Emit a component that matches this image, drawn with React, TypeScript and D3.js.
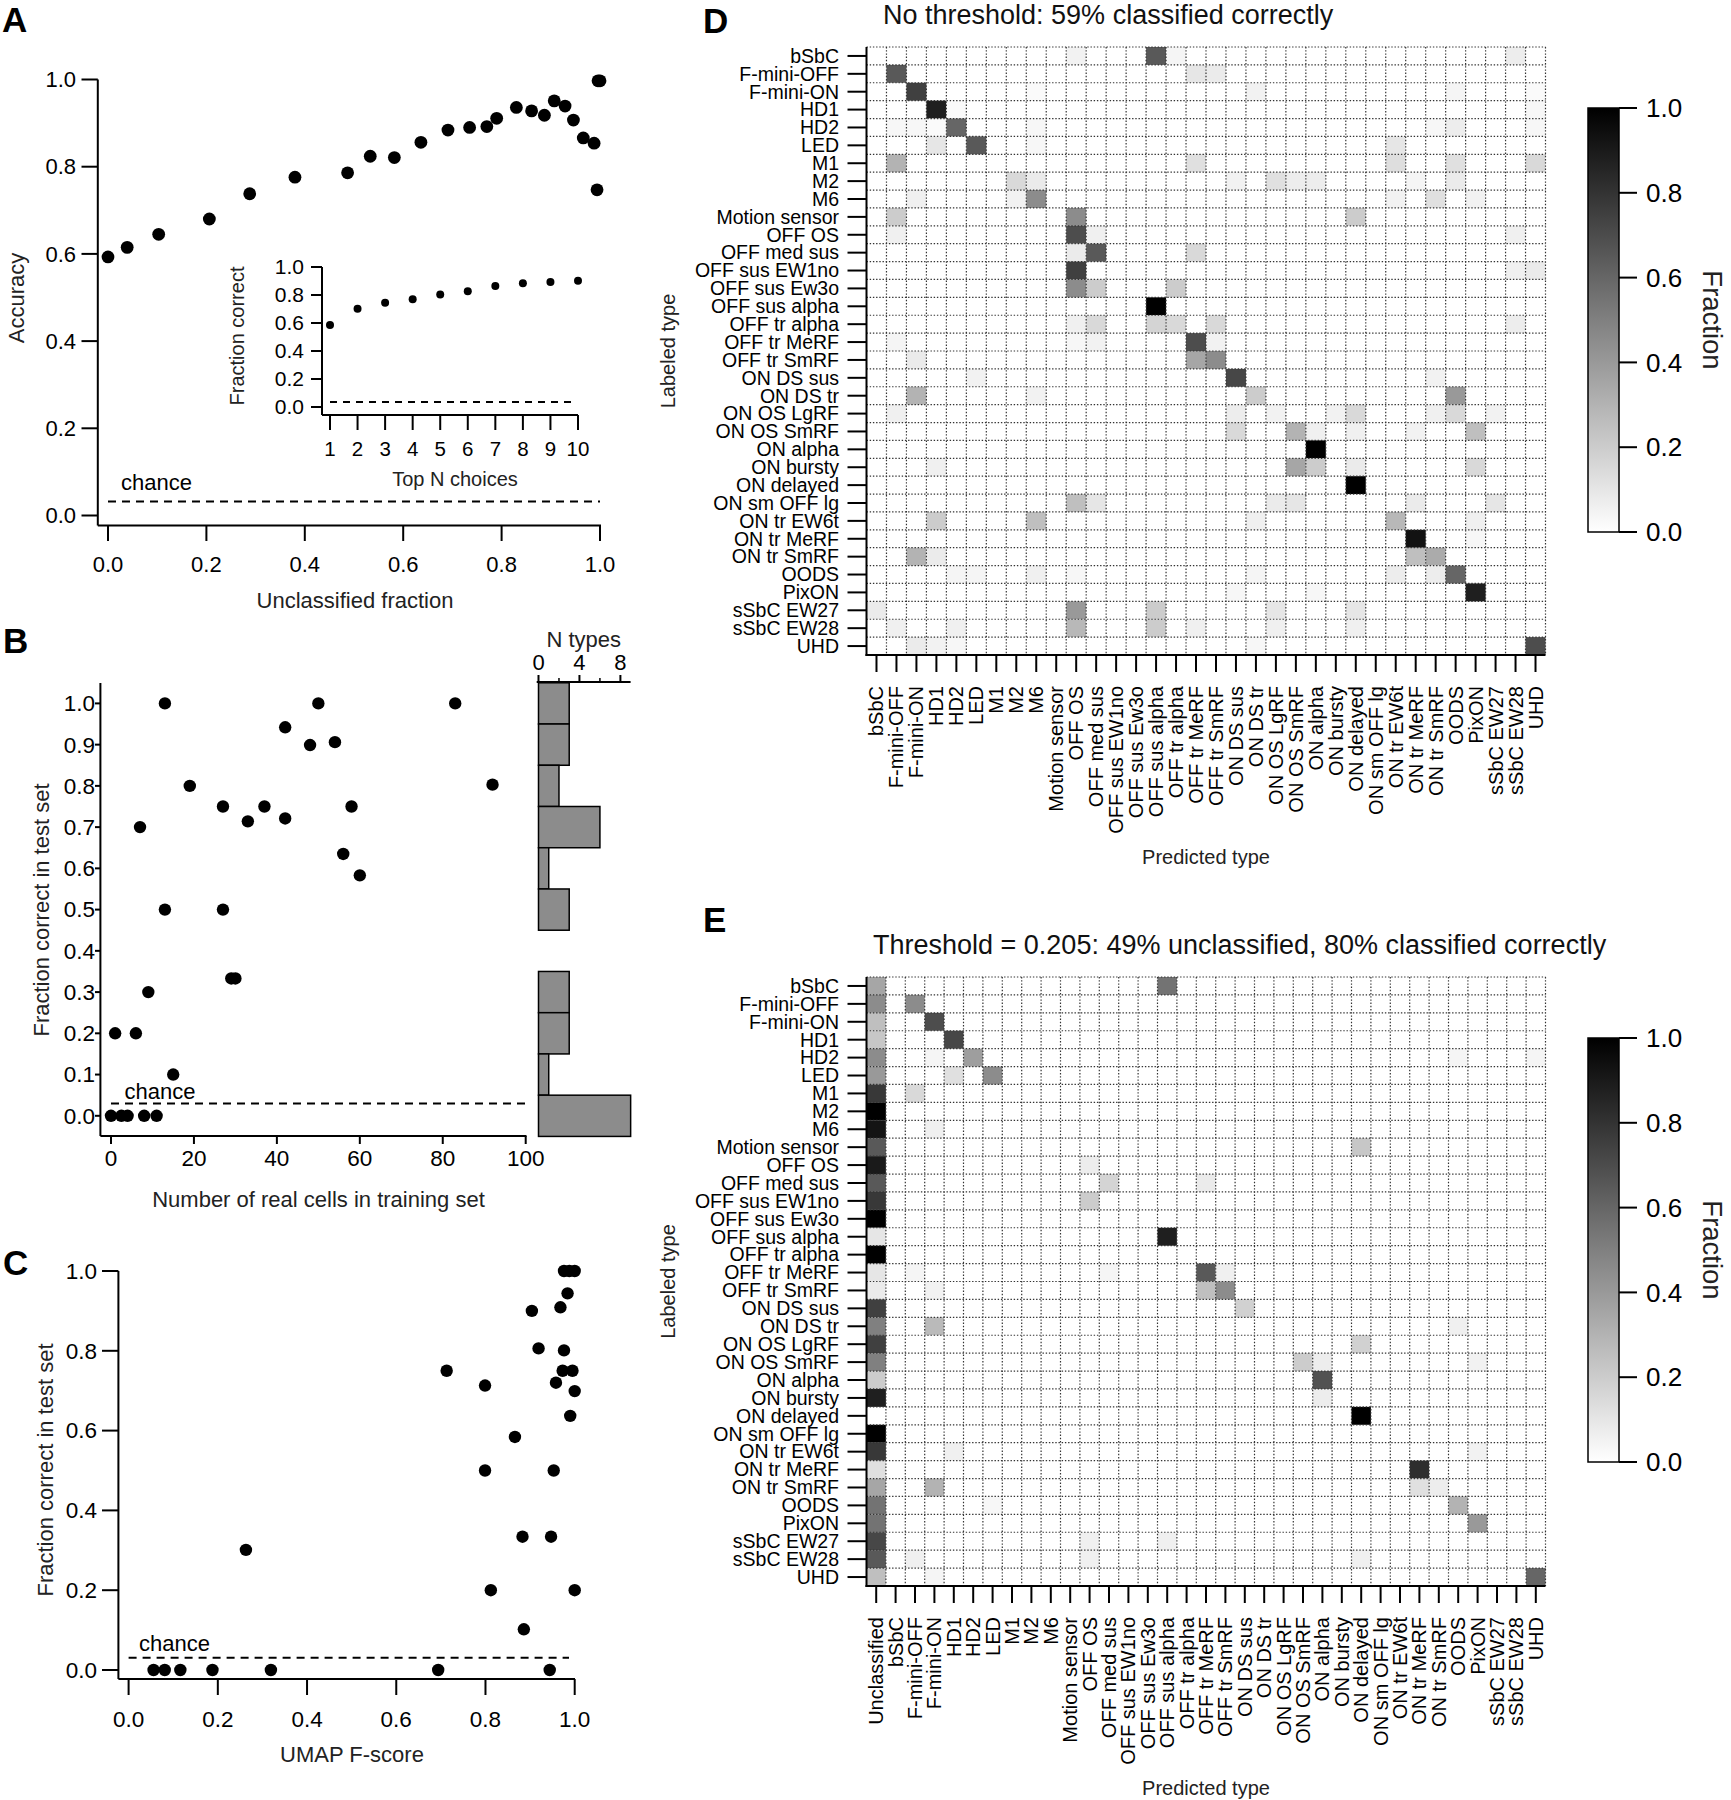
import React from "react";
import * as d3 from "d3";

const W = 1731;
const H = 1800;
const FONT = "'Liberation Sans', Arial, Helvetica, sans-serif";

// ---------------- Panel A data ----------------
const unclassifiedFraction = [0.0, 0.039, 0.103, 0.206, 0.288, 0.38, 0.487, 0.533, 0.582, 0.636, 0.691, 0.735, 0.77, 0.79, 0.83, 0.861, 0.887, 0.907, 0.929, 0.946, 0.966, 0.988, 0.994, 0.996, 1.0];
const accuracy = [0.593, 0.615, 0.645, 0.68, 0.738, 0.776, 0.786, 0.824, 0.821, 0.856, 0.884, 0.89, 0.892, 0.911, 0.936, 0.928, 0.918, 0.951, 0.939, 0.907, 0.866, 0.854, 0.747, 0.997, 0.997];
const topNChoices = [1, 2, 3, 4, 5, 6, 7, 8, 9, 10];
const topNFraction = [0.585, 0.702, 0.744, 0.77, 0.804, 0.827, 0.864, 0.884, 0.892, 0.901];
const chanceLevel = 0.032;
const ticksA = [0, 0.2, 0.4, 0.6, 0.8, 1.0];

// ---------------- Panel B data ----------------
const trainingCells = [13, 50, 83, 42, 48, 54, 19, 92, 27, 37, 58, 7, 33, 42, 56, 60, 13, 27, 29, 30, 9, 1, 6, 15, 0, 2.5, 4, 8, 11];
const fractionCorrectB = [1, 1, 1, 0.942, 0.899, 0.906, 0.8, 0.803, 0.75, 0.75, 0.75, 0.7, 0.714, 0.721, 0.635, 0.583, 0.5, 0.5, 0.333, 0.333, 0.3, 0.2, 0.2, 0.1, 0, 0, 0, 0, 0];
const histBinCenters = [1.0, 0.9, 0.8, 0.7, 0.6, 0.5, 0.4, 0.3, 0.2, 0.1, 0.0];
const histCounts = [3, 3, 2, 6, 1, 3, 0, 3, 3, 1, 9];
const ticksBy = [0, 0.1, 0.2, 0.3, 0.4, 0.5, 0.6, 0.7, 0.8, 0.9, 1.0];
const ticksBx = [0, 20, 40, 60, 80, 100];
const ticksHist = [0, 4, 8];
const minorTicksHist = [2, 6];

// ---------------- Panel C data ----------------
const umapFScore = [0.976, 0.988, 1.0, 0.984, 0.904, 0.968, 0.919, 0.976, 0.713, 0.973, 0.995, 0.799, 0.958, 1.0, 0.99, 0.866, 0.799, 0.953, 0.883, 0.947, 0.263, 0.812, 1.0, 0.886, 0.056, 0.081, 0.116, 0.188, 0.319, 0.694, 0.944];
const fractionCorrectC = [1, 1, 1, 0.944, 0.9, 0.909, 0.806, 0.801, 0.75, 0.75, 0.75, 0.713, 0.72, 0.699, 0.637, 0.584, 0.5, 0.5, 0.334, 0.334, 0.301, 0.2, 0.2, 0.102, 0, 0, 0, 0, 0, 0, 0];

// ---------------- Panels D / E data ----------------
const typeNames = ["bSbC", "F-mini-OFF", "F-mini-ON", "HD1", "HD2", "LED", "M1", "M2", "M6", "Motion sensor", "OFF OS", "OFF med sus", "OFF sus EW1no", "OFF sus Ew3o", "OFF sus alpha", "OFF tr alpha", "OFF tr MeRF", "OFF tr SmRF", "ON DS sus", "ON DS tr", "ON OS LgRF", "ON OS SmRF", "ON alpha", "ON bursty", "ON delayed", "ON sm OFF lg", "ON tr EW6t", "ON tr MeRF", "ON tr SmRF", "OODS", "PixON", "sSbC EW27", "sSbC EW28", "UHD"];
const predictedColsE = ["Unclassified", ...typeNames];
const colorbarTicks = [0, 0.2, 0.4, 0.6, 0.8, 1.0];

// [labeled row, predicted column, fraction]
const confusionD: [number, number, number][] = [
  [0, 10, 0.05], [0, 14, 0.65], [0, 15, 0.04], [0, 32, 0.07],
  [1, 1, 0.65], [1, 16, 0.1], [1, 17, 0.08],
  [2, 2, 0.75], [2, 8, 0.02], [2, 19, 0.05], [2, 29, 0.04], [2, 33, 0.02],
  [3, 3, 0.88], [3, 4, 0.02], [3, 33, 0.03],
  [4, 1, 0.03], [4, 2, 0.03], [4, 3, 0.02], [4, 4, 0.6], [4, 8, 0.03], [4, 28, 0.03], [4, 29, 0.07], [4, 33, 0.03],
  [5, 3, 0.1], [5, 5, 0.65], [5, 8, 0.03], [5, 26, 0.1],
  [6, 1, 0.3], [6, 16, 0.12], [6, 26, 0.13], [6, 29, 0.12], [6, 33, 0.15],
  [7, 7, 0.15], [7, 8, 0.08], [7, 18, 0.05], [7, 20, 0.12], [7, 21, 0.07], [7, 22, 0.07], [7, 27, 0.04], [7, 29, 0.08],
  [8, 2, 0.06], [8, 7, 0.05], [8, 8, 0.45], [8, 26, 0.05], [8, 28, 0.12], [8, 30, 0.05],
  [9, 1, 0.2], [9, 10, 0.45], [9, 24, 0.2],
  [10, 1, 0.06], [10, 10, 0.7], [10, 11, 0.06], [10, 32, 0.06],
  [11, 10, 0.08], [11, 11, 0.65], [11, 16, 0.15],
  [12, 10, 0.75], [12, 32, 0.06], [12, 33, 0.08],
  [13, 10, 0.45], [13, 11, 0.2], [13, 15, 0.2],
  [14, 14, 1.0],
  [15, 10, 0.06], [15, 11, 0.15], [15, 14, 0.17], [15, 15, 0.15], [15, 17, 0.15], [15, 32, 0.07],
  [16, 1, 0.04], [16, 10, 0.03], [16, 11, 0.05], [16, 16, 0.7], [16, 17, 0.05],
  [17, 2, 0.08], [17, 16, 0.35], [17, 17, 0.45],
  [18, 5, 0.05], [18, 18, 0.72], [18, 28, 0.05],
  [19, 2, 0.3], [19, 8, 0.05], [19, 19, 0.2], [19, 29, 0.4],
  [20, 1, 0.06], [20, 18, 0.07], [20, 20, 0.05], [20, 23, 0.05], [20, 24, 0.15], [20, 28, 0.06], [20, 29, 0.15], [20, 31, 0.05],
  [21, 18, 0.15], [21, 21, 0.3], [21, 22, 0.06], [21, 24, 0.06], [21, 27, 0.05], [21, 30, 0.25],
  [22, 22, 1.0],
  [23, 3, 0.06], [23, 21, 0.35], [23, 22, 0.2], [23, 24, 0.08], [23, 30, 0.15],
  [24, 24, 1.0],
  [25, 10, 0.25], [25, 11, 0.1], [25, 20, 0.08], [25, 21, 0.1], [25, 27, 0.08], [25, 31, 0.1],
  [26, 3, 0.2], [26, 8, 0.25], [26, 19, 0.06], [26, 26, 0.28], [26, 30, 0.06],
  [27, 27, 0.93], [27, 30, 0.03],
  [28, 2, 0.3], [28, 3, 0.08], [28, 27, 0.25], [28, 28, 0.33],
  [29, 4, 0.04], [29, 5, 0.04], [29, 8, 0.06], [29, 10, 0.03], [29, 19, 0.04], [29, 26, 0.07], [29, 28, 0.07], [29, 29, 0.6],
  [30, 18, 0.03], [30, 22, 0.03], [30, 30, 0.88],
  [31, 0, 0.08], [31, 10, 0.4], [31, 14, 0.2], [31, 20, 0.1], [31, 24, 0.1],
  [32, 1, 0.06], [32, 4, 0.06], [32, 10, 0.28], [32, 14, 0.2], [32, 16, 0.06], [32, 20, 0.06], [32, 24, 0.06],
  [33, 2, 0.08], [33, 3, 0.05], [33, 4, 0.03], [33, 19, 0.03], [33, 33, 0.7],
];

// column 0 = Unclassified
const confusionE: [number, number, number][] = [
  [0, 0, 0.35], [0, 15, 0.55],
  [1, 0, 0.45], [1, 2, 0.45],
  [2, 0, 0.25], [2, 3, 0.7],
  [3, 0, 0.22], [3, 4, 0.72],
  [4, 0, 0.45], [4, 3, 0.04], [4, 5, 0.38], [4, 30, 0.04], [4, 34, 0.04],
  [5, 0, 0.4], [5, 4, 0.12], [5, 6, 0.45],
  [6, 0, 0.78], [6, 2, 0.15],
  [7, 0, 1.0],
  [8, 0, 0.92], [8, 3, 0.06],
  [9, 0, 0.65], [9, 25, 0.22],
  [10, 0, 0.9], [10, 11, 0.07],
  [11, 0, 0.65], [11, 12, 0.17], [11, 17, 0.08],
  [12, 0, 0.78], [12, 11, 0.2],
  [13, 0, 1.0],
  [14, 0, 0.1], [14, 15, 0.88],
  [15, 0, 1.0],
  [16, 0, 0.1], [16, 2, 0.04], [16, 12, 0.04], [16, 17, 0.65], [16, 18, 0.06],
  [17, 0, 0.08], [17, 3, 0.05], [17, 17, 0.25], [17, 18, 0.45],
  [18, 0, 0.75], [18, 19, 0.18],
  [19, 0, 0.5], [19, 3, 0.27], [19, 30, 0.06],
  [20, 0, 0.75], [20, 25, 0.18],
  [21, 0, 0.5], [21, 22, 0.2], [21, 23, 0.07], [21, 31, 0.05],
  [22, 0, 0.2], [22, 23, 0.68],
  [23, 0, 0.88], [23, 23, 0.07],
  [24, 25, 1.0],
  [25, 0, 1.0],
  [26, 0, 0.78], [26, 4, 0.06], [26, 31, 0.05],
  [27, 0, 0.12], [27, 28, 0.82],
  [28, 0, 0.35], [28, 3, 0.3], [28, 28, 0.12], [28, 29, 0.07],
  [29, 0, 0.55], [29, 6, 0.03], [29, 30, 0.3],
  [30, 0, 0.55], [30, 31, 0.4],
  [31, 0, 0.72], [31, 11, 0.06], [31, 15, 0.06],
  [32, 0, 0.65], [32, 2, 0.06], [32, 11, 0.06], [32, 25, 0.06],
  [33, 0, 0.25], [33, 3, 0.04], [33, 34, 0.6],
];

const fmt1 = d3.format(".1f");

function PanelLetter({ x, y, t }: { x: number; y: number; t: string }) {
  return (
    <text x={x} y={y} fontSize={35} fontWeight="bold" fontFamily={FONT} fill="#000">
      {t}
    </text>
  );
}

function PanelA() {
  const x = d3.scaleLinear().domain([0, 1]).range([108, 600]);
  const y = d3.scaleLinear().domain([0, 1]).range([515.5, 79.5]);
  const xi = d3.scaleLinear().domain([1, 10]).range([330, 578]);
  const yi = d3.scaleLinear().domain([0, 1]).range([407, 267]);
  const axX = 97.8;
  const axY = 525.4;
  return (
    <g>
      <PanelLetter x={2} y={32} t="A" />
      <line x1={axX} x2={axX} y1={y(1)} y2={axY} stroke="#000" strokeWidth={2} />
      <line x1={axX} x2={601} y1={axY} y2={axY} stroke="#000" strokeWidth={2} />
      {ticksA.map((t) => (
        <g key={"ay" + t}>
          <line x1={81.5} x2={axX} y1={y(t)} y2={y(t)} stroke="#000" strokeWidth={2} />
          <text x={76} y={y(t)} dy="0.35em" textAnchor="end" fontSize={22} fontFamily={FONT}>{fmt1(t)}</text>
        </g>
      ))}
      {ticksA.map((t) => (
        <g key={"ax" + t}>
          <line x1={x(t)} x2={x(t)} y1={axY} y2={541} stroke="#000" strokeWidth={2} />
          <text x={x(t)} y={564} dy="0.35em" textAnchor="middle" fontSize={22} fontFamily={FONT}>{fmt1(t)}</text>
        </g>
      ))}
      <text transform={`translate(16,298) rotate(-90)`} dy="0.35em" textAnchor="middle" fontSize={22} fontFamily={FONT} fill="#222">Accuracy</text>
      <text x={355} y={600} dy="0.35em" textAnchor="middle" fontSize={22} fontFamily={FONT} fill="#222">Unclassified fraction</text>
      <line x1={x(0)} x2={x(1)} y1={y(chanceLevel)} y2={y(chanceLevel)} stroke="#000" strokeWidth={2} strokeDasharray="8,6" />
      <text x={121} y={489.5} fontSize={22} fontFamily={FONT}>chance</text>
      {unclassifiedFraction.map((u, i) => (
        <circle key={"a" + i} cx={x(u)} cy={y(accuracy[i])} r={6.4} fill="#000" />
      ))}
      {/* inset */}
      <line x1={322} x2={322} y1={yi(1)} y2={415} stroke="#000" strokeWidth={2} />
      <line x1={322} x2={578} y1={415} y2={415} stroke="#000" strokeWidth={2} />
      {ticksA.map((t) => (
        <g key={"iy" + t}>
          <line x1={311} x2={322} y1={yi(t)} y2={yi(t)} stroke="#000" strokeWidth={2} />
          <text x={304} y={yi(t)} dy="0.35em" textAnchor="end" fontSize={21} fontFamily={FONT}>{fmt1(t)}</text>
        </g>
      ))}
      {topNChoices.map((t) => (
        <g key={"ix" + t}>
          <line x1={xi(t)} x2={xi(t)} y1={415} y2={430} stroke="#000" strokeWidth={2} />
          <text x={xi(t)} y={449} dy="0.35em" textAnchor="middle" fontSize={20.5} fontFamily={FONT}>{t}</text>
        </g>
      ))}
      <line x1={xi(1)} x2={574} y1={yi(0.035)} y2={yi(0.035)} stroke="#000" strokeWidth={2} strokeDasharray="7,6" />
      {topNChoices.map((t, i) => (
        <circle key={"ip" + i} cx={xi(t)} cy={yi(topNFraction[i])} r={4} fill="#000" />
      ))}
      <text transform={`translate(236.5,336) rotate(-90)`} dy="0.35em" textAnchor="middle" fontSize={20} fontFamily={FONT} fill="#222">Fraction correct</text>
      <text x={455} y={479} dy="0.35em" textAnchor="middle" fontSize={20} fontFamily={FONT} fill="#222">Top N choices</text>
    </g>
  );
}

function PanelB() {
  const x = d3.scaleLinear().domain([0, 100]).range([111, 525.7]);
  const y = d3.scaleLinear().domain([0, 1]).range([1115.8, 703.4]);
  const xh = d3.scaleLinear().domain([0, 8]).range([538.5, 620.4]);
  const axX = 100.4;
  const axY = 1136;
  const binH = y(0) - y(0.1);
  return (
    <g>
      <PanelLetter x={3} y={653} t="B" />
      <line x1={axX} x2={axX} y1={683} y2={axY} stroke="#000" strokeWidth={2} />
      <line x1={axX} x2={526.5} y1={axY} y2={axY} stroke="#000" strokeWidth={2} />
      {ticksBy.map((t) => (
        <g key={"by" + t}>
          <line x1={95} x2={axX} y1={y(t)} y2={y(t)} stroke="#000" strokeWidth={2} />
          <text x={95} y={y(t)} dy="0.35em" textAnchor="end" fontSize={22.5} fontFamily={FONT}>{fmt1(t)}</text>
        </g>
      ))}
      {ticksBx.map((t) => (
        <g key={"bx" + t}>
          <line x1={x(t)} x2={x(t)} y1={axY} y2={1144} stroke="#000" strokeWidth={2} />
          <text x={x(t)} y={1158.6} dy="0.35em" textAnchor="middle" fontSize={22.5} fontFamily={FONT}>{t}</text>
        </g>
      ))}
      <text transform={`translate(41,910) rotate(-90)`} dy="0.35em" textAnchor="middle" fontSize={22} fontFamily={FONT} fill="#222">Fraction correct in test set</text>
      <text x={318.5} y={1199.5} dy="0.35em" textAnchor="middle" fontSize={22} fontFamily={FONT} fill="#222">Number of real cells in training set</text>
      <line x1={x(0)} x2={526.5} y1={y(0.03)} y2={y(0.03)} stroke="#000" strokeWidth={2} strokeDasharray="8,6" />
      <text x={124.5} y={1099} fontSize={22} fontFamily={FONT}>chance</text>
      {trainingCells.map((c, i) => (
        <circle key={"b" + i} cx={x(c)} cy={y(fractionCorrectB[i])} r={6.2} fill="#000" />
      ))}
      {/* histogram */}
      <line x1={536.7} x2={630.6} y1={682} y2={682} stroke="#000" strokeWidth={2} />
      {ticksHist.map((t) => (
        <g key={"h" + t}>
          <line x1={xh(t)} x2={xh(t)} y1={682} y2={675} stroke="#000" strokeWidth={2} />
          <text x={xh(t)} y={662.5} dy="0.35em" textAnchor="middle" fontSize={22} fontFamily={FONT}>{t}</text>
        </g>
      ))}
      {minorTicksHist.map((t) => (
        <line key={"hm" + t} x1={xh(t)} x2={xh(t)} y1={682} y2={678} stroke="#000" strokeWidth={1.5} />
      ))}
      <text x={583.7} y={639} dy="0.35em" textAnchor="middle" fontSize={22} fontFamily={FONT} fill="#222">N types</text>
      {histBinCenters.map((b, i) =>
        histCounts[i] > 0 ? (
          <rect key={"hb" + i} x={xh(0)} y={y(b + 0.05)} width={xh(histCounts[i]) - xh(0)} height={binH} fill="#8c8c8c" stroke="#000" strokeWidth={1.5} />
        ) : null
      )}
    </g>
  );
}

function PanelC() {
  const x = d3.scaleLinear().domain([0, 1]).range([128.6, 574.7]);
  const y = d3.scaleLinear().domain([0, 1]).range([1670, 1271]);
  const axX = 118.4;
  const axY = 1679;
  return (
    <g>
      <PanelLetter x={3} y={1275} t="C" />
      <line x1={axX} x2={axX} y1={y(1)} y2={axY} stroke="#000" strokeWidth={2} />
      <line x1={axX} x2={575} y1={axY} y2={axY} stroke="#000" strokeWidth={2} />
      {ticksA.map((t) => (
        <g key={"cy" + t}>
          <line x1={102} x2={axX} y1={y(t)} y2={y(t)} stroke="#000" strokeWidth={2} />
          <text x={97} y={y(t)} dy="0.35em" textAnchor="end" fontSize={22.5} fontFamily={FONT}>{fmt1(t)}</text>
        </g>
      ))}
      {ticksA.map((t) => (
        <g key={"cx" + t}>
          <line x1={x(t)} x2={x(t)} y1={axY} y2={1695} stroke="#000" strokeWidth={2} />
          <text x={x(t)} y={1718.7} dy="0.35em" textAnchor="middle" fontSize={22.5} fontFamily={FONT}>{fmt1(t)}</text>
        </g>
      ))}
      <text transform={`translate(45,1470) rotate(-90)`} dy="0.35em" textAnchor="middle" fontSize={22} fontFamily={FONT} fill="#222">Fraction correct in test set</text>
      <text x={352} y={1754} dy="0.35em" textAnchor="middle" fontSize={22} fontFamily={FONT} fill="#222">UMAP F-score</text>
      <line x1={x(0)} x2={569} y1={y(0.031)} y2={y(0.031)} stroke="#000" strokeWidth={2} strokeDasharray="8,6" />
      <text x={139} y={1651} fontSize={22} fontFamily={FONT}>chance</text>
      {umapFScore.map((f, i) => (
        <circle key={"c" + i} cx={x(f)} cy={y(fractionCorrectC[i])} r={6.2} fill="#000" />
      ))}
    </g>
  );
}

type MatrixProps = {
  letter: string;
  letterY: number;
  title: string;
  titleX: number;
  titleY: number;
  top: number;
  bottom: number;
  cols: string[];
  entries: [number, number, number][];
  cbTop: number;
  cbBottom: number;
  gradId: string;
};

function Matrix(p: MatrixProps) {
  const left = 866.5;
  const right = 1545.5;
  const x = d3.scaleBand<string>().domain(p.cols).range([left, right]);
  const y = d3.scaleBand<string>().domain(typeNames).range([p.top, p.bottom]);
  const color = d3.scaleLinear<string>().domain([0, 1]).range(["#ffffff", "#000000"]);
  const cb = d3.scaleLinear().domain([0, 1]).range([p.cbBottom, p.cbTop]);
  const bw = x.bandwidth();
  const bh = y.bandwidth();
  const cbX0 = 1588;
  const cbX1 = 1619;
  const stops = d3.range(0, 1.0001, 0.1);
  return (
    <g>
      <PanelLetter x={703} y={p.letterY} t={p.letter} />
      <text x={p.titleX} y={p.titleY} fontSize={27} fontFamily={FONT} fill="#111">{p.title}</text>
      {p.entries.map(([r, c, v], i) => (
        <rect key={"cell" + i} x={x(p.cols[c])!} y={y(typeNames[r])!} width={bw} height={bh} fill={color(v)} />
      ))}
      {/* dotted grid */}
      {d3.range(1, p.cols.length + 1).map((i) => (
        <line key={"gv" + i} x1={left + i * bw} x2={left + i * bw} y1={p.top} y2={p.bottom} stroke="#333" strokeWidth={1.2} strokeDasharray="1.4,1.8" />
      ))}
      {d3.range(0, typeNames.length).map((j) => (
        <line key={"gh" + j} x1={left} x2={right} y1={p.top + j * bh} y2={p.top + j * bh} stroke="#333" strokeWidth={1.2} strokeDasharray="1.4,1.8" />
      ))}
      <line x1={left} x2={left} y1={p.top} y2={p.bottom + 1} stroke="#000" strokeWidth={2} />
      <line x1={left - 1} x2={right} y1={p.bottom} y2={p.bottom} stroke="#000" strokeWidth={2} />
      {typeNames.map((t) => (
        <g key={"rl" + t}>
          <line x1={847.5} x2={left} y1={y(t)! + bh / 2} y2={y(t)! + bh / 2} stroke="#000" strokeWidth={2} />
          <text x={839} y={y(t)! + bh / 2} dy="0.35em" textAnchor="end" fontSize={19.5} fontFamily={FONT}>{t}</text>
        </g>
      ))}
      {p.cols.map((c) => (
        <g key={"cl" + c}>
          <line x1={x(c)! + bw / 2} x2={x(c)! + bw / 2} y1={p.bottom} y2={p.bottom + 17} stroke="#000" strokeWidth={2} />
          <text transform={`translate(${x(c)! + bw / 2},${p.bottom + 31}) rotate(-90)`} dy="0.35em" textAnchor="end" fontSize={20} fontFamily={FONT}>{c}</text>
        </g>
      ))}
      <text transform={`translate(668,${(p.top + p.bottom) / 2}) rotate(-90)`} dy="0.35em" textAnchor="middle" fontSize={20} fontFamily={FONT} fill="#222">Labeled type</text>
      <text x={(left + right) / 2} y={p.bottom + 202} dy="0.35em" textAnchor="middle" fontSize={20} fontFamily={FONT} fill="#222">Predicted type</text>
      {/* colorbar */}
      <defs>
        <linearGradient id={p.gradId} x1="0" y1="1" x2="0" y2="0">
          {stops.map((s) => (
            <stop key={s} offset={s} stopColor={color(s)} />
          ))}
        </linearGradient>
      </defs>
      <rect x={cbX0} y={p.cbTop} width={cbX1 - cbX0} height={p.cbBottom - p.cbTop} fill={`url(#${p.gradId})`} stroke="#000" strokeWidth={1.5} />
      {colorbarTicks.map((t) => (
        <g key={"cb" + t}>
          <line x1={cbX1} x2={1637} y1={cb(t)} y2={cb(t)} stroke="#000" strokeWidth={2} />
          <text x={1646} y={cb(t)} dy="0.35em" fontSize={26} fontFamily={FONT}>{fmt1(t)}</text>
        </g>
      ))}
      <text transform={`translate(1713,${(p.cbTop + p.cbBottom) / 2}) rotate(90)`} dy="0.35em" textAnchor="middle" fontSize={27.5} fontFamily={FONT} fill="#222">Fraction</text>
    </g>
  );
}

export default function App() {
  return (
    <div style={{ position: "absolute", left: 0, top: 0, background: "#fff" }}>
      <svg width={W} height={H} viewBox={`0 0 ${W} ${H}`} style={{ display: "block", background: "#fff" }}>
        <rect x={0} y={0} width={W} height={H} fill="#fff" />
        <PanelA />
        <PanelB />
        <PanelC />
        <Matrix
          letter="D"
          letterY={33}
          title="No threshold: 59% classified correctly"
          titleX={883}
          titleY={24}
          top={47}
          bottom={655}
          cols={typeNames}
          entries={confusionD}
          cbTop={108}
          cbBottom={532}
          gradId="gradD"
        />
        <Matrix
          letter="E"
          letterY={932}
          title="Threshold = 0.205: 49% unclassified, 80% classified correctly"
          titleX={873}
          titleY={954}
          top={977}
          bottom={1586}
          cols={predictedColsE}
          entries={confusionE}
          cbTop={1038}
          cbBottom={1462}
          gradId="gradE"
        />
      </svg>
    </div>
  );
}
